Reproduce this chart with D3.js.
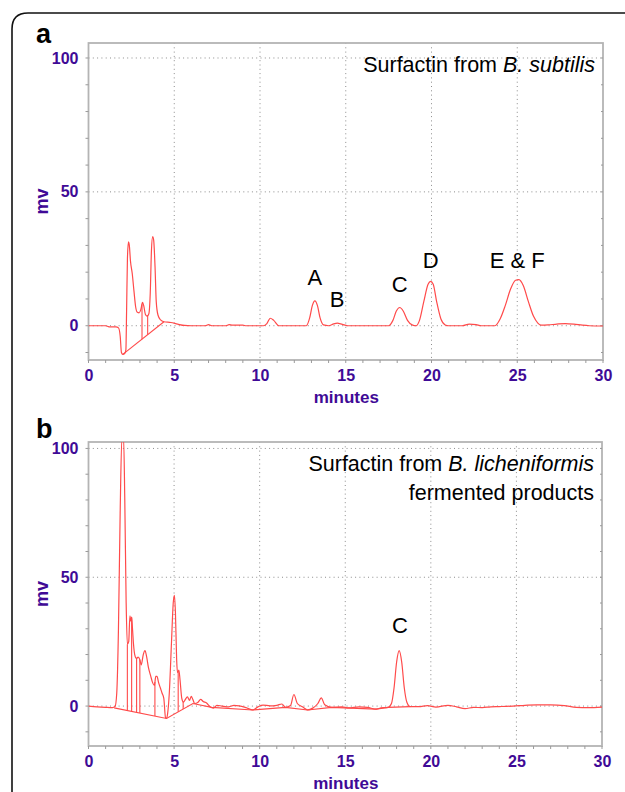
<!DOCTYPE html>
<html>
<head>
<meta charset="utf-8">
<script src="https://cdn.jsdelivr.net/npm/d3@7"></script>
<style>
  body { margin: 0; background: #fff; }
  svg { display: block; font-family: "Liberation Sans", Arial, sans-serif; }
</style>
</head>
<body>
<svg id="chart" width="625" height="792"></svg>
<script>
// ---- data (time in minutes, signal in mV) ----
var traceA = [
  [0,0],[1.0,0],[1.2,-0.4],[1.6,-0.4],[1.75,-0.8],[1.85,-4],[1.92,-10],[2.0,-10.7],[2.1,-10.5],
  [2.18,-9],[2.22,5],[2.27,25],[2.33,31.3],[2.38,30],[2.45,24],[2.55,19.5],[2.65,13],[2.75,7],
  [2.85,5],[2.95,4.8],[3.05,6],[3.15,8.7],[3.22,7.5],[3.32,4.2],[3.42,3.6],[3.52,4.5],[3.6,12],
  [3.67,28],[3.74,33.3],[3.8,32],[3.88,22],[3.95,9],[4.05,4],[4.2,2.2],[4.4,1.5],[4.8,1.2],
  [5.2,0.6],[5.6,0.1],[6,0],[6.8,0],[7.0,0.4],[7.2,0],[8.0,0],[8.2,0.4],[8.4,0.2],[9.0,0.2],
  [9.2,0],[10.2,0],[10.4,0.8],[10.6,2.8],[10.8,2.0],[11.1,0],[12.7,0],[12.9,3],[13.05,7.5],
  [13.2,9.3],[13.35,7.5],[13.5,3],[13.7,0.3],[14.0,0],[14.3,0.7],[14.5,1],[14.8,0.5],[15.1,0],
  [17.5,0],[17.75,2],[17.95,5.5],[18.15,6.8],[18.35,5.5],[18.6,2],[18.9,0.2],[19.1,0],[19.3,2],
  [19.55,9],[19.8,15.5],[19.95,16.6],[20.1,15.5],[20.3,9],[20.55,2.5],[20.8,0.3],[21.0,0],
  [21.8,0],[22.2,0.6],[22.6,0.4],[22.9,0],[23.7,0],[24.0,2.5],[24.3,7.5],[24.6,13.5],[24.9,17],
  [25.1,17.2],[25.35,15],[25.65,9],[25.95,3.5],[26.2,1],[26.4,0.2],[26.8,0.3],[27.3,0.6],
  [27.8,0.8],[28.3,0.6],[28.8,0.2],[29.2,0],[30,-0.1]
];
var baselineA = [[2.0,-10.7],[4.4,1.5]];
var dropTimesA = [3.12, 3.45];
var peakNamesA = ["A", "B", "C", "D", "E & F"];
var peakTimesA = [13.2, 14.5, 18.15, 19.95, 25.0];
var peakLabelMvA = [15.2, 7.0, 12.6, 21.6, 21.6];

var traceB = [
  [0,0],[0.5,-0.3],[1.0,-0.5],[1.4,-0.6],[1.55,-0.2],[1.65,5],[1.75,30],[1.85,75],[1.95,104],
  [2.05,104],[2.12,80],[2.2,40],[2.27,24],[2.35,25],[2.42,35],[2.47,33],[2.52,34.5],[2.57,30],
  [2.63,24],[2.7,20],[2.8,18.5],[2.9,19],[3.0,18],[3.08,16],[3.2,20],[3.3,21.5],[3.4,19],
  [3.5,15],[3.62,12],[3.75,9],[3.85,8],[3.93,11.5],[4.0,11.5],[4.1,9],[4.2,7],[4.3,5],[4.4,3],
  [4.5,-4.5],[4.56,-4.8],[4.62,-3],[4.72,5],[4.85,25],[4.95,40],[5.02,43],[5.08,36],[5.15,18],
  [5.2,13],[5.28,14],[5.35,10],[5.45,3],[5.55,1.5],[5.65,2.5],[5.78,3.6],[5.9,2.2],[6.0,3.8],
  [6.1,2.5],[6.2,1],[6.4,1.5],[6.55,2.6],[6.7,1.8],[6.9,1.2],[7.1,-0.3],[7.3,-0.8],[7.5,0.3],
  [7.8,0],[8.2,-0.3],[8.5,0.3],[8.8,0.1],[9.2,-0.6],[9.6,-1.5],[9.9,-0.3],[10.2,0.4],[10.6,0.1],
  [11.0,0.3],[11.3,0.8],[11.5,-0.5],[11.8,0.2],[12.0,4.5],[12.2,1.0],[12.5,-0.3],[12.8,-1.5],
  [13.1,-0.8],[13.4,1],[13.6,3.2],[13.8,0.5],[14.2,-0.5],[14.8,-0.3],[15.2,-0.7],[15.8,-0.3],
  [16.3,-0.5],[16.8,-1.2],[17.1,-0.7],[17.5,-0.5],[17.7,1],[17.85,7],[18.0,17],[18.15,21.5],
  [18.3,17],[18.45,7],[18.6,1.5],[18.8,-0.2],[19.3,-0.2],[19.8,0.2],[20.3,-0.4],[21.0,0.3],
  [21.5,-0.3],[22.0,-1],[22.5,-0.5],[23,-0.6],[23.5,-0.3],[24,-0.2],[24.8,0],[25.5,0.3],
  [26.2,0.5],[27,0.5],[27.8,0.2],[28.5,-0.5],[29.2,-0.6],[30,-0.4]
];
var baselineB = [[1.5,-0.7],[4.56,-4.8],[6.1,1.0],[7.2,-0.5],[9.6,-1.5],[11.5,-0.5],
  [12.8,-1.5],[14.2,-0.5],[16.8,-1.2],[17.5,-0.5],[18.8,-0.2]];
var dropTimesB = [2.27, 2.52, 2.81, 3.0, 3.88, 5.24, 5.53];
var peakNamesB = ["C"];
var peakTimesB = [18.2];
var peakLabelMvB = [28.3];

var xMajorTicks = [0, 5, 10, 15, 20, 25, 30];
var yMajorTicks = [0, 50, 100];

var tickColor = "#3f0a96",
    traceColor = "#ff4a4a";

var svg = d3.select("#chart");

// outer rounded frame, runs off the page on the right and bottom
svg.append("path")
    .attr("d", "M12,800 L12,29 Q12,13 28,13 L630,13")
    .attr("fill", "none")
    .attr("stroke", "#111")
    .attr("stroke-width", 1.6);

function drawPanel(cfg) {
    var x = d3.scaleLinear().domain([0, 30]).range([cfg.left, cfg.right]);
    var y = d3.scaleLinear().domain(cfg.yDomain).range([cfg.bottom, cfg.top]);
    var g = svg.append("g");

    var clipId = "clip" + cfg.name;
    g.append("clipPath").attr("id", clipId)
      .append("rect")
        .attr("x", cfg.left).attr("y", cfg.top)
        .attr("width", cfg.right - cfg.left).attr("height", cfg.bottom - cfg.top);

    // dotted grid
    g.selectAll(".vgrid").data(xMajorTicks.slice(1, -1)).enter().append("line")
        .attr("x1", x).attr("x2", x)
        .attr("y1", cfg.top).attr("y2", cfg.bottom)
        .attr("stroke", "#8c8c8c").attr("stroke-width", 1)
        .attr("stroke-dasharray", "1,3.3");
    g.selectAll(".hgrid").data(yMajorTicks).enter().append("line")
        .attr("x1", cfg.left).attr("x2", cfg.right)
        .attr("y1", y).attr("y2", y)
        .attr("stroke", "#8c8c8c").attr("stroke-width", 1)
        .attr("stroke-dasharray", "1,3.3");

    // frame
    g.append("rect")
        .attr("x", cfg.left).attr("y", cfg.top)
        .attr("width", cfg.right - cfg.left).attr("height", cfg.bottom - cfg.top)
        .attr("fill", "none").attr("stroke", "#b4b4b4").attr("stroke-width", 1.8);

    // minor ticks
    var yMinor = d3.range(-10, 101, 10).filter(function (v) { return v >= cfg.yDomain[0]; });
    g.selectAll(".ymin").data(yMinor).enter().append("line")
        .attr("x1", cfg.left - 3).attr("x2", cfg.left)
        .attr("y1", y).attr("y2", y)
        .attr("stroke", "#9a9a9a");
    g.selectAll(".ymin2").data(yMinor).enter().append("line")
        .attr("x1", cfg.right).attr("x2", cfg.right - 2)
        .attr("y1", y).attr("y2", y)
        .attr("stroke", "#9a9a9a");
    g.selectAll(".xmin").data(d3.range(0, 31, 1)).enter().append("line")
        .attr("x1", x).attr("x2", x)
        .attr("y1", cfg.bottom).attr("y2", cfg.bottom + 3)
        .attr("stroke", "#9a9a9a");

    // tick labels
    var yAxis = d3.axisLeft(y).tickValues(yMajorTicks).tickSize(0).tickPadding(10);
    g.append("g").attr("transform", "translate(" + cfg.left + ",0)").call(yAxis)
        .call(function (s) { s.select(".domain").remove(); })
        .selectAll("text")
        .attr("fill", tickColor).style("font-size", "16px").style("font-weight", "bold")
        .style("font-family", "'Liberation Sans', Arial, sans-serif");
    var xAxis = d3.axisBottom(x).tickValues(xMajorTicks).tickSize(0).tickPadding(10);
    g.append("g").attr("transform", "translate(0," + cfg.bottom + ")").call(xAxis)
        .call(function (s) { s.select(".domain").remove(); })
        .selectAll("text")
        .attr("fill", tickColor).style("font-size", "16px").style("font-weight", "bold")
        .style("font-family", "'Liberation Sans', Arial, sans-serif");

    g.append("text")
        .attr("x", (cfg.left + cfg.right) / 2 + 0.5)
        .attr("y", cfg.bottom + 43)
        .attr("text-anchor", "middle")
        .attr("fill", tickColor).attr("font-size", 17).attr("font-weight", "bold")
        .text("minutes");
    g.append("text")
        .attr("transform", "translate(" + 48 + "," + (cfg.top + cfg.bottom) / 2 + ") rotate(-90)")
        .attr("text-anchor", "middle")
        .attr("fill", tickColor).attr("font-size", 18).attr("font-weight", "bold")
        .text("mv");

    // panel letter
    g.append("text")
        .attr("x", 36).attr("y", cfg.letterY)
        .attr("font-size", 27).attr("font-weight", "bold").attr("fill", "#000")
        .text(cfg.name);

    // trace + integration baseline + drop lines
    var line = d3.line()
        .x(function (d) { return x(d[0]); })
        .y(function (d) { return y(d[1]); });
    var plot = g.append("g").attr("clip-path", "url(#" + clipId + ")");
    plot.append("path").datum(cfg.baseline)
        .attr("d", line.curve(d3.curveLinear))
        .attr("fill", "none").attr("stroke", traceColor).attr("stroke-width", 1.1);

    var traceAt = d3.scaleLinear()
        .domain(cfg.trace.map(function (d) { return d[0]; }))
        .range(cfg.trace.map(function (d) { return d[1]; }));
    var baseAt = d3.scaleLinear()
        .domain(cfg.baseline.map(function (d) { return d[0]; }))
        .range(cfg.baseline.map(function (d) { return d[1]; }));
    plot.selectAll(".drop").data(cfg.drops).enter().append("line")
        .attr("x1", x).attr("x2", x)
        .attr("y1", function (t) { return y(traceAt(t)); })
        .attr("y2", function (t) { return y(baseAt(t)); })
        .attr("stroke", traceColor).attr("stroke-width", 1.1);

    plot.append("path").datum(cfg.trace)
        .attr("d", line.curve(d3.curveMonotoneX))
        .attr("fill", "none").attr("stroke", traceColor).attr("stroke-width", 1.2);

    // peak labels
    g.selectAll(".peak").data(cfg.peakNames).enter().append("text")
        .attr("x", function (d, i) { return x(cfg.peakTimes[i]); })
        .attr("y", function (d, i) { return y(cfg.peakMv[i]); })
        .attr("text-anchor", "middle")
        .attr("font-size", 22).attr("fill", "#000")
        .text(function (d) { return d; });

    // title
    var title = g.append("text")
        .attr("x", cfg.right - 8).attr("y", cfg.top + 29)
        .attr("text-anchor", "end")
        .attr("font-size", 21.5).attr("fill", "#000");
    title.append("tspan").text("Surfactin from ");
    title.append("tspan").attr("font-style", "italic").text(cfg.species);
    if (cfg.subtitle) {
        g.append("text")
            .attr("x", cfg.right - 8).attr("y", cfg.top + 58)
            .attr("text-anchor", "end")
            .attr("font-size", 21.5).attr("fill", "#000")
            .text(cfg.subtitle);
    }
}

drawPanel({
    name: "a", left: 88.5, right: 603, top: 43, bottom: 360, letterY: 43,
    yDomain: [-12.8, 105.6],
    trace: traceA, baseline: baselineA, drops: dropTimesA,
    peakNames: peakNamesA, peakTimes: peakTimesA, peakMv: peakLabelMvA,
    species: "B. subtilis"
});
drawPanel({
    name: "b", left: 88.5, right: 602, top: 442, bottom: 746, letterY: 438,
    yDomain: [-15.5, 102.5],
    trace: traceB, baseline: baselineB, drops: dropTimesB,
    peakNames: peakNamesB, peakTimes: peakTimesB, peakMv: peakLabelMvB,
    species: "B. licheniformis", subtitle: "fermented products"
});
</script>
</body>
</html>
